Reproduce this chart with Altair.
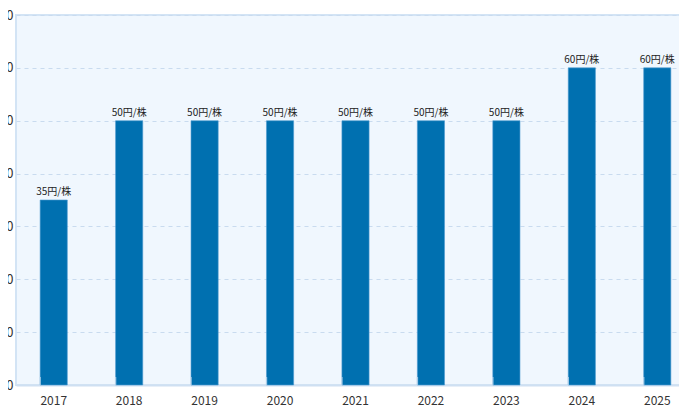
import altair as alt
import pandas as pd

years = ["2017", "2018", "2019", "2020", "2021", "2022", "2023", "2024", "2025"]
dividends = [35, 50, 50, 50, 50, 50, 50, 60, 60]
labels = [f"{v}円/株" for v in dividends]
y_ticks = [0, 10, 20, 30, 40, 50, 60, 70]

df = pd.DataFrame({"year": years, "value": dividends, "label": labels})

FONT = "Noto Sans CJK JP"

x_enc = alt.X("year:N", sort=years,
              scale=alt.Scale(paddingInner=0.64, paddingOuter=0.32),
              axis=alt.Axis(title=None, labelAngle=0, labelFontSize=12, labelColor="#333333",
                            labelFont=FONT, labelPadding=10, ticks=False,
                            domainColor="#cfe0f2", domainWidth=2))
y_enc = alt.Y("value:Q", scale=alt.Scale(domain=[0, 70], nice=False),
              axis=alt.Axis(title=None, values=y_ticks, labelFontSize=13, labelColor="#333333",
                            labelFont=FONT, domain=False, ticks=False, labelPadding=3,
                            gridColor="#c9dbef", gridDash=[4, 4], gridWidth=1))

bars = alt.Chart(df).mark_bar(color="#0070b0", stroke="#4d9bd0", strokeWidth=0.6).encode(
    x=x_enc, y=y_enc)

text = alt.Chart(df).mark_text(dy=-8, fontSize=10, color="#222222", font=FONT).encode(
    x=alt.X("year:N", sort=years), y="value:Q", text="label:N")

ticks = alt.Chart(df).mark_tick(orient="vertical", size=8, color="#c6dbf0", thickness=1.5, yOffset=-4).encode(
    x=alt.X("year:N", sort=years, bandPosition=0), y=alt.datum(0))

chart = alt.layer(bars, ticks, text).properties(
    width=679, height=370,
    autosize=alt.AutoSizeParams(type="none"),
    padding={"left": 8, "top": 7, "right": -16, "bottom": 24},
).configure_view(
    fill="#f0f7fe", stroke="#d3e4f5", strokeWidth=2
).configure_axis(gridColor="#c9dbef")

chart.save("out.html", embed_options={"renderer": "svg", "actions": False})
